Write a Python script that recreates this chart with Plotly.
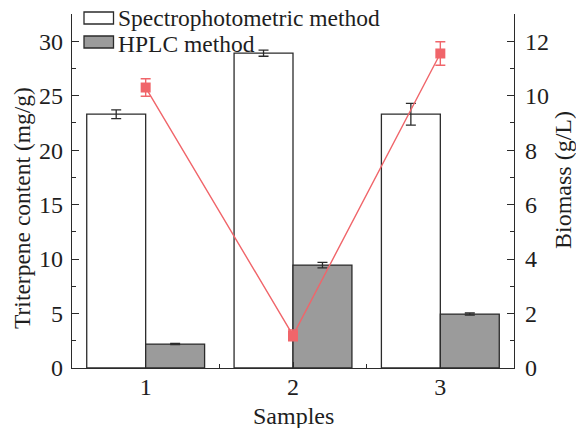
import plotly.graph_objects as go

# Sample numbers and measured values
samples = [1, 2, 3]
spectro = [23.3, 28.9, 23.3]          # triterpene content, spectrophotometric (mg/g)
spectro_err = [0.4, 0.28, 1.0]
hplc = [2.2, 9.45, 4.95]              # triterpene content, HPLC (mg/g)
hplc_err = [0.06, 0.25, 0.1]
biomass = [10.3, 1.2, 11.55]          # biomass (g/L)
biomass_err = [0.32, 0.2, 0.43]

legend_labels = ["Spectrophotometric method", "HPLC method"]
x_title = "Samples"
y_title = "Triterpene content (mg/g)"
y2_title = "Biomass (g/L)"

FONT = "Liberation Serif, Times New Roman, serif"
INK = "#2b2b2b"
TEXT = "#1e1e1e"
RED = "#f0656a"
GREY = "#9b9b9b"

W, H = 576, 428
ML, MR, MT, MB = 72, 62, 14, 60
PW, PH = W - ML - MR, H - MT - MB


def px_x(px):
    return (px - ML) / PW


def px_y(py):
    return (H - MB - py) / PH


fig = go.Figure()

fig.add_trace(go.Bar(
    x=samples, y=spectro, name=legend_labels[0],
    marker=dict(color="white", line=dict(color=INK, width=1.3)),
    error_y=dict(type="data", array=spectro_err, color=INK, thickness=1.3, width=5),
    showlegend=False,
))
fig.add_trace(go.Bar(
    x=samples, y=hplc, name=legend_labels[1],
    marker=dict(color=GREY, line=dict(color=INK, width=1.3)),
    error_y=dict(type="data", array=hplc_err, color=INK, thickness=1.3, width=5),
    showlegend=False,
))
fig.add_trace(go.Scatter(
    x=samples, y=biomass, yaxis="y2", mode="lines+markers",
    line=dict(color=RED, width=1.4),
    marker=dict(symbol="square", size=10, color=RED),
    error_y=dict(type="data", array=biomass_err, color=RED, thickness=1.4, width=5),
    showlegend=False,
))

tickfont = dict(family=FONT, size=24, color=TEXT)

fig.update_layout(
    width=W, height=H,
    margin=dict(l=ML, r=MR, t=MT, b=MB),
    paper_bgcolor="white", plot_bgcolor="white",
    barmode="group", bargap=0.2, bargroupgap=0,
    font=dict(family=FONT, size=23, color=TEXT),
    xaxis=dict(
        range=[0.5, 3.5], tickvals=samples, ticktext=[str(s) for s in samples],
        showline=True, linecolor=INK, linewidth=1.3, mirror=False,
        ticks="inside", ticklen=6, tickwidth=1.2, tickcolor=INK,
        minor=dict(tickvals=[1.5, 2.5], ticks="inside", ticklen=4, tickwidth=1.2, tickcolor=INK),
        showgrid=False, zeroline=False, tickfont=tickfont, ticklabelstandoff=-3,
    ),
    yaxis=dict(
        range=[0, 32.5], tick0=0, dtick=5,
        showline=True, linecolor=INK, linewidth=1.3,
        ticks="inside", ticklen=7, tickwidth=1.2, tickcolor=INK,
        minor=dict(dtick=2.5, tick0=0, ticks="inside", ticklen=4, tickwidth=1.2, tickcolor=INK),
        showgrid=False, zeroline=False, tickfont=tickfont, ticklabelstandoff=3,
    ),
    yaxis2=dict(
        range=[0, 13], tick0=0, dtick=2, overlaying="y", side="right",
        showline=True, linecolor=INK, linewidth=1.3,
        ticks="inside", ticklen=7, tickwidth=1.2, tickcolor=INK,
        minor=dict(dtick=1, tick0=0, ticks="inside", ticklen=4, tickwidth=1.2, tickcolor=INK),
        showgrid=False, zeroline=False, tickfont=tickfont, ticklabelstandoff=5,
    ),
)

# Legend drawn by hand: wide swatches with labels to the right
swatches = [("white", 12, 24, 18.5), (GREY, 36, 48, 43.5)]
for (fill, top, bottom, text_mid), label in zip(swatches, legend_labels):
    fig.add_shape(
        type="rect", xref="paper", yref="paper",
        x0=px_x(84), x1=px_x(113.5), y0=px_y(bottom), y1=px_y(top),
        fillcolor=fill, line=dict(color=INK, width=1.3), layer="above",
    )
    fig.add_annotation(
        text=label, xref="paper", yref="paper",
        x=px_x(116), y=px_y(text_mid),
        xanchor="left", yanchor="middle", showarrow=False,
        font=dict(family=FONT, size=23.5, color=TEXT),
    )

# Axis titles
fig.add_annotation(
    text=x_title, xref="paper", yref="paper", x=0.5, y=px_y(416),
    xanchor="center", yanchor="middle", showarrow=False,
    font=dict(family=FONT, size=24, color=TEXT),
)
fig.add_annotation(
    text=y_title, xref="paper", yref="paper", x=px_x(22), y=px_y(208),
    xanchor="center", yanchor="middle", textangle=-90, showarrow=False,
    font=dict(family=FONT, size=23.5, color=TEXT),
)
fig.add_annotation(
    text=y2_title, xref="paper", yref="paper", x=px_x(563), y=px_y(180),
    xanchor="center", yanchor="middle", textangle=-90, showarrow=False,
    font=dict(family=FONT, size=24, color=TEXT),
)

fig.write_html("out.html")
